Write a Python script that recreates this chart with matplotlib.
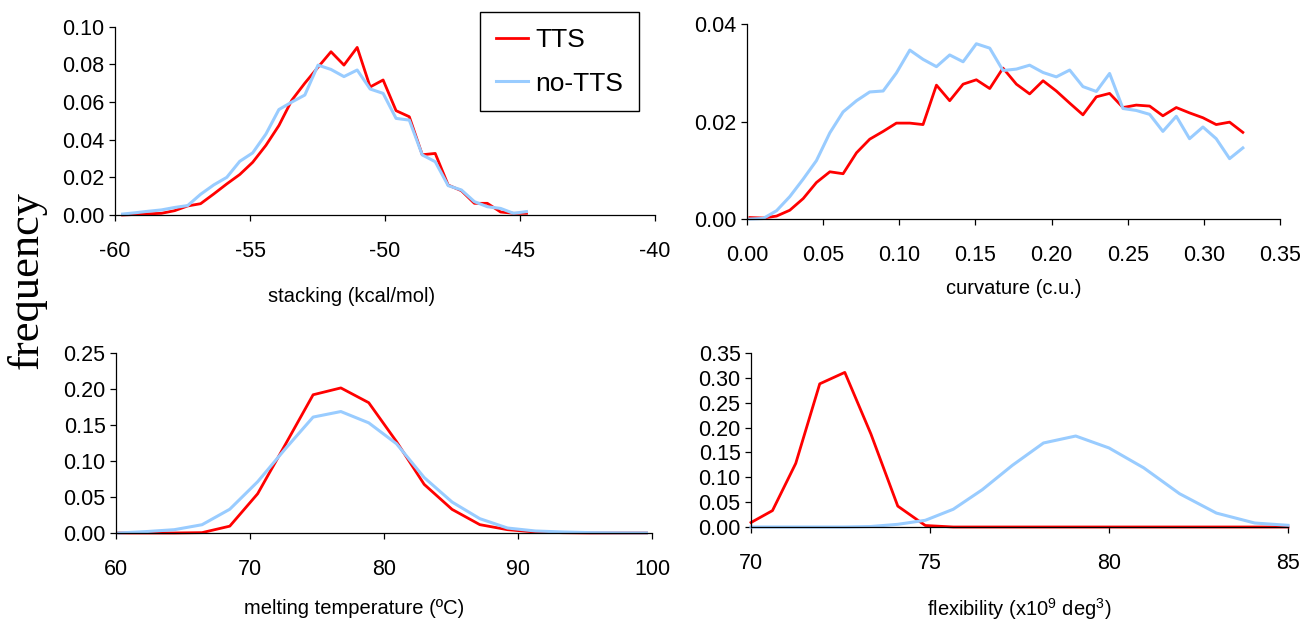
import matplotlib
matplotlib.use("Agg")
import matplotlib.pyplot as plt
from matplotlib import font_manager
from matplotlib.ticker import FormatStrFormatter

# stacking energy histogram (kcal/mol)
stack_x = [-59.72, -59.24, -58.76, -58.28, -57.79, -57.31, -56.83, -56.34,
           -55.86, -55.38, -54.90, -54.41, -53.93, -53.45, -52.97, -52.48,
           -52.00, -51.52, -51.03, -50.55, -50.07, -49.59, -49.10, -48.62,
           -48.14, -47.66, -47.17, -46.69, -46.21, -45.72, -45.24, -44.76]
stack_tts = [0.0000, 0.0003, 0.0006, 0.0009, 0.0023, 0.0048, 0.0060, 0.0112,
             0.0165, 0.0215, 0.0280, 0.0370, 0.0475, 0.0610, 0.0700, 0.0785,
             0.0867, 0.0796, 0.0890, 0.0680, 0.0717, 0.0554, 0.0522, 0.0320,
             0.0327, 0.0159, 0.0129, 0.0062, 0.0062, 0.0016, 0.0009, 0.0009]
stack_no = [0.0005, 0.0012, 0.0020, 0.0027, 0.0040, 0.0050, 0.0110, 0.0160,
            0.0200, 0.0285, 0.0330, 0.0430, 0.0560, 0.0600, 0.0637, 0.0796,
            0.0773, 0.0735, 0.0770, 0.0669, 0.0646, 0.0513, 0.0504, 0.0319,
            0.0283, 0.0156, 0.0133, 0.0071, 0.0044, 0.0035, 0.0009, 0.0018]

# curvature histogram (c.u.)
curv_x = [0.0019, 0.0106, 0.0194, 0.0281, 0.0369, 0.0456, 0.0544, 0.0631,
          0.0719, 0.0806, 0.0894, 0.0981, 0.1069, 0.1156, 0.1244, 0.1331,
          0.1419, 0.1506, 0.1594, 0.1681, 0.1769, 0.1856, 0.1944, 0.2031,
          0.2119, 0.2206, 0.2294, 0.2381, 0.2469, 0.2556, 0.2644, 0.2731,
          0.2819, 0.2906, 0.2994, 0.3081, 0.3169, 0.3256]
curv_tts = [0.0003, 0.0002, 0.0006, 0.0018, 0.0042, 0.0075, 0.0097, 0.0093,
            0.0136, 0.0164, 0.0180, 0.0197, 0.0197, 0.0194, 0.0275, 0.0243,
            0.0277, 0.0286, 0.0268, 0.0310, 0.0277, 0.0257, 0.0284, 0.0263,
            0.0238, 0.0214, 0.0251, 0.0258, 0.0229, 0.0234, 0.0232, 0.0212,
            0.0229, 0.0218, 0.0208, 0.0194, 0.0199, 0.0178]
curv_no = [0.0000, 0.0001, 0.0017, 0.0046, 0.0082, 0.0120, 0.0177, 0.0220,
           0.0243, 0.0261, 0.0263, 0.0300, 0.0347, 0.0328, 0.0313, 0.0337,
           0.0323, 0.0360, 0.0351, 0.0305, 0.0308, 0.0316, 0.0301, 0.0292,
           0.0306, 0.0272, 0.0262, 0.0299, 0.0227, 0.0223, 0.0215, 0.0180,
           0.0211, 0.0165, 0.0189, 0.0165, 0.0124, 0.0146]

# melting temperature histogram (ºC)
melt_x = [60.2, 62.27, 64.35, 66.42, 68.49, 70.57, 72.64, 74.71, 76.78, 78.86,
          80.93, 83.0, 85.08, 87.15, 89.22, 91.3, 93.37, 95.44, 97.51, 99.59]
melt_tts = [0.0, 0.0, 0.0, 0.0005, 0.0095, 0.0545, 0.123, 0.192, 0.2015, 0.181,
            0.127, 0.0675, 0.0328, 0.0116, 0.0046, 0.0014, 0.0004, 0.0, 0.0, 0.0]
melt_no = [0.0, 0.002, 0.0046, 0.0115, 0.033, 0.0712, 0.117, 0.161, 0.1687, 0.153,
           0.124, 0.077, 0.043, 0.0199, 0.0069, 0.0028, 0.0014, 0.0005, 0.0002, 0.0001]

# flexibility histogram (x10^9 deg^3)
flex_x = [70.0, 70.6, 71.25, 71.92, 72.62, 73.35, 74.1, 74.87, 75.65, 76.46,
          77.3, 78.17, 79.07, 80.0, 80.97, 81.97, 83.0, 84.07, 85.0]
flex_tts = [0.009, 0.033, 0.128, 0.288, 0.311, 0.187, 0.042, 0.003, 0.0, 0.0,
            0.0, 0.0, 0.0, 0.0, 0.0, 0.0, 0.0, 0.0, 0.0]
flex_no = [0.0, 0.0, 0.0, 0.0, 0.0, 0.001, 0.0054, 0.0135, 0.0357, 0.075,
           0.124, 0.169, 0.183, 0.159, 0.119, 0.067, 0.028, 0.008, 0.0034]

W, H = 1303, 621
RED = "#ff0000"
BLUE = "#99ccff"

# the original uses a narrow Arial; take a condensed face if one is installed
names = {f.name for f in font_manager.fontManager.ttflist}
sans = "Liberation Sans"
for cand in ["Liberation Sans Narrow", "Arial Narrow", "DejaVu Sans Condensed"]:
    if cand in names:
        sans = cand
        break
plt.rcParams["font.family"] = [sans, "DejaVu Sans"]
plt.rcParams["axes.unicode_minus"] = False
plt.rcParams["mathtext.fontset"] = "custom"
plt.rcParams["mathtext.rm"] = sans

fig = plt.figure(figsize=(W / 100, H / 100), dpi=100)


def panel(l, r, t, b, xlim, xticks, xfmt, ylim, yticks):
    ax = fig.add_axes([l / W, 1 - b / H, (r - l) / W, (b - t) / H])
    ax.set_xlim(xlim)
    ax.set_ylim(ylim)
    ax.set_xticks(xticks)
    ax.set_yticks(yticks)
    ax.xaxis.set_major_formatter(FormatStrFormatter(xfmt))
    ax.yaxis.set_major_formatter(FormatStrFormatter("%.2f"))
    for s in ("top", "right"):
        ax.spines[s].set_visible(False)
    for s in ("left", "bottom"):
        ax.spines[s].set_linewidth(0.9)
        ax.spines[s].set_color("black")
    ax.tick_params(direction="out", length=4.5, width=0.9, labelsize=15.5)
    ax.tick_params(axis="x", pad=14)
    ax.tick_params(axis="y", pad=3)
    return ax


def draw(ax, x, tts, no):
    l1, = ax.plot(x, tts, color=RED, lw=2.0, clip_on=False, label="TTS")
    l2, = ax.plot(x, no, color=BLUE, lw=2.2, clip_on=False, label="no-TTS")
    return l1, l2


ax1 = panel(115, 655, 26.7, 215, (-60, -40), [-60, -55, -50, -45, -40], "%d",
            (0, 0.10), [0, 0.02, 0.04, 0.06, 0.08, 0.10])
h1, h2 = draw(ax1, stack_x, stack_tts, stack_no)

ax2 = panel(747, 1280, 24.3, 219, (0, 0.35), [0, 0.05, 0.10, 0.15, 0.20, 0.25, 0.30, 0.35],
            "%.2f", (0, 0.04), [0, 0.02, 0.04])
draw(ax2, curv_x, curv_tts, curv_no)

ax3 = panel(116, 652, 353, 533, (60, 100), [60, 70, 80, 90, 100], "%d",
            (0, 0.25), [0, 0.05, 0.10, 0.15, 0.20, 0.25])
draw(ax3, melt_x, melt_tts, melt_no)

ax4 = panel(751, 1288, 353, 527, (70, 85), [70, 75, 80, 85], "%d",
            (0, 0.35), [0, 0.05, 0.10, 0.15, 0.20, 0.25, 0.30, 0.35])
draw(ax4, flex_x, flex_tts, flex_no)

# axis titles (placed like the original chart areas)
fig.text(352 / W, 1 - 297 / H, "stacking (kcal/mol)", ha="center", va="center", fontsize=14.5)
fig.text(1014 / W, 1 - 288 / H, "curvature (c.u.)", ha="center", va="center", fontsize=14.5)
fig.text(354 / W, 1 - 609 / H, "melting temperature (ºC)", ha="center", va="center", fontsize=14.5)
fig.text(1019 / W, 1 - 609 / H, r"flexibility (x10$^\mathregular{9}$ deg$^\mathregular{3}$)",
         ha="center", va="center", fontsize=14.5)

fig.text(27 / W, 1 - 280 / H, "frequency", rotation=90, ha="center", va="center",
         fontsize=32, family=["Liberation Serif", "DejaVu Serif"])

leg = fig.legend([h1, h2], ["TTS", "no-TTS"], loc="upper left",
                 bbox_to_anchor=(480 / W, 1 - 12 / H), bbox_transform=fig.transFigure,
                 borderaxespad=0, fontsize=19, handlelength=1.2, handletextpad=0.3,
                 labelspacing=0.75, borderpad=0.6, fancybox=False, framealpha=1)
leg.get_frame().set_edgecolor("black")
leg.get_frame().set_linewidth(1.0)

fig.savefig("out.png", dpi=100)
